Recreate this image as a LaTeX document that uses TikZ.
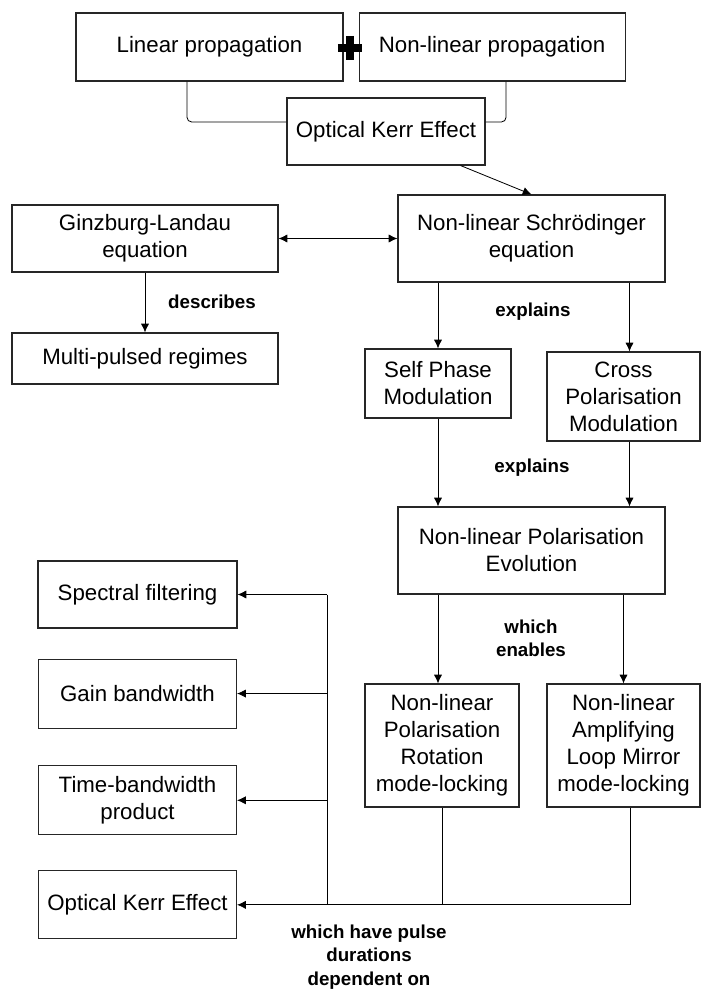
\documentclass[tikz,border=0pt]{standalone}
\usepackage{fontspec}
\setmainfont{Liberation Sans}
\usetikzlibrary{positioning,arrows.meta}

\begin{document}
\begin{tikzpicture}[
  x=0.03cm, y=-0.03cm,
  font=\fontsize{19}{23}\selectfont,
  box/.style={draw=black!85, line width=0.9pt, align=center, inner sep=0pt},
  lbl/.style={font=\fontsize{16}{20}\selectfont\bfseries, align=center},
  arr/.style={-{Latex[length=7.5pt, width=7pt]}, line width=0.7pt},
  conn/.style={line width=0.7pt},
  plussign/.style={line width=0.22cm}]
  \useasboundingbox (0,0) rectangle (701,990);
  % top row
  \node[box, minimum width=8.01cm, minimum height=2.04cm] (lin) at (209.5,47) {Linear propagation};
  \node[box, minimum width=7.98cm, minimum height=2.04cm, right=0.45cm of lin] (nlin) {Non-linear propagation};
  \node[minimum size=0.72cm, inner sep=0pt] (plus) at (350,48) {};
  \node[box, minimum width=5.94cm, minimum height=2.01cm] (oke) at (386,131.5) {Optical Kerr Effect};
  % equations
  \node[box, minimum width=8.01cm, minimum height=2.61cm] (nlse) at (531.5,238.5) {Non-linear Schrödinger\\equation};
  \node[box, minimum width=7.98cm, minimum height=2.01cm] (gl) at (145,238.5) {Ginzburg-Landau\\equation};
  \node[box, minimum width=7.98cm, minimum height=1.53cm] (mpr) at (145,358.5) {Multi-pulsed regimes};
  % modulation
  \node[box, minimum width=4.38cm, minimum height=2.07cm] (spm) at (438,383.5) {Self Phase\\Modulation};
  \node[box, minimum width=4.59cm, minimum height=2.67cm] (cpm) at (623.5,396.5) {Cross\\Polarisation\\Modulation};
  \node[box, minimum width=8.01cm, minimum height=2.61cm] (npe) at (531.5,550.5) {Non-linear Polarisation\\Evolution};
  % mode-locking
  \node[box, minimum width=4.62cm, minimum height=3.69cm] (npr) at (442,745.5) {Non-linear\\Polarisation\\Rotation\\mode-locking};
  \node[box, minimum width=4.59cm, minimum height=3.69cm] (nalm) at (623.5,745.5) {Non-linear\\Amplifying\\Loop Mirror\\mode-locking};
  % pulse duration factors
  \node[box, minimum width=5.97cm, minimum height=2.01cm] (spf) at (137.5,594.5) {Spectral filtering};
  \node[box, minimum width=5.94cm, minimum height=2.07cm, below=0.9cm of spf] (gbw) {Gain bandwidth};
  \node[box, minimum width=5.94cm, minimum height=2.07cm, below=1.1cm of gbw] (tbp) {Time-bandwidth\\product};
  \node[box, minimum width=5.94cm, minimum height=2.04cm, below=1.05cm of tbp] (okeb) {Optical Kerr Effect};
  \coordinate (bus) at (327,0);
  % labels
  \node[lbl] (ldesc) at (212,302) {describes};
  \node[lbl] (lexpa) at (533,312) {explains};
  \node[lbl] (lexpb) at (532,468) {explains};
  \node[lbl] (lenab) at (531,638.5) {which\\enables};
  \node[lbl] (ldur) at (369,957) {which have pulse\\durations\\dependent on};
  % connectors
  \draw[plussign] (plus.north) -- (plus.south) (plus.west) -- (plus.east);
  \draw[conn, rounded corners=4pt] ([xshift=-0.675cm]lin.south) |- ([yshift=0.285cm]oke.west);
  \draw[conn, rounded corners=4pt] ([xshift=0.42cm]nlin.south) |- ([yshift=0.285cm]oke.east);
  \draw[arr] ([xshift=-0.75cm]oke.south east) -- (nlse.north);
  \draw[arr, {Latex[length=7.5pt, width=7pt]}-{Latex[length=7.5pt, width=7pt]}] (gl.east) -- (nlse.west);
  \draw[arr] (gl.south) -- (mpr.north);
  \draw[arr] (spm.north |- nlse.south) -- (spm.north);
  \draw[arr] ([xshift=0.18cm]cpm.north |- nlse.south) -- ([xshift=0.18cm]cpm.north);
  \draw[arr] (spm.south) -- (spm.south |- npe.north);
  \draw[arr] ([xshift=0.18cm]cpm.south) -- ([xshift=0.18cm]cpm.south |- npe.north);
  \draw[arr] (npe.south -| spm.south) -- (npr.north -| spm.south);
  \draw[arr] (nalm.north |- npe.south) -- (nalm.north);
  \draw[conn] (npr.south) -- (npr.south |- okeb.east);
  \draw[arr] ([xshift=0.21cm]nalm.south) |- (okeb.east);
  \draw[conn] (bus |- spf.east) -- (bus |- okeb.east);
  \draw[arr] (bus |- spf.east) -- (spf.east);
  \draw[arr] (bus |- gbw.east) -- (gbw.east);
  \draw[arr] (bus |- tbp.east) -- (tbp.east);
\end{tikzpicture}
\end{document}
